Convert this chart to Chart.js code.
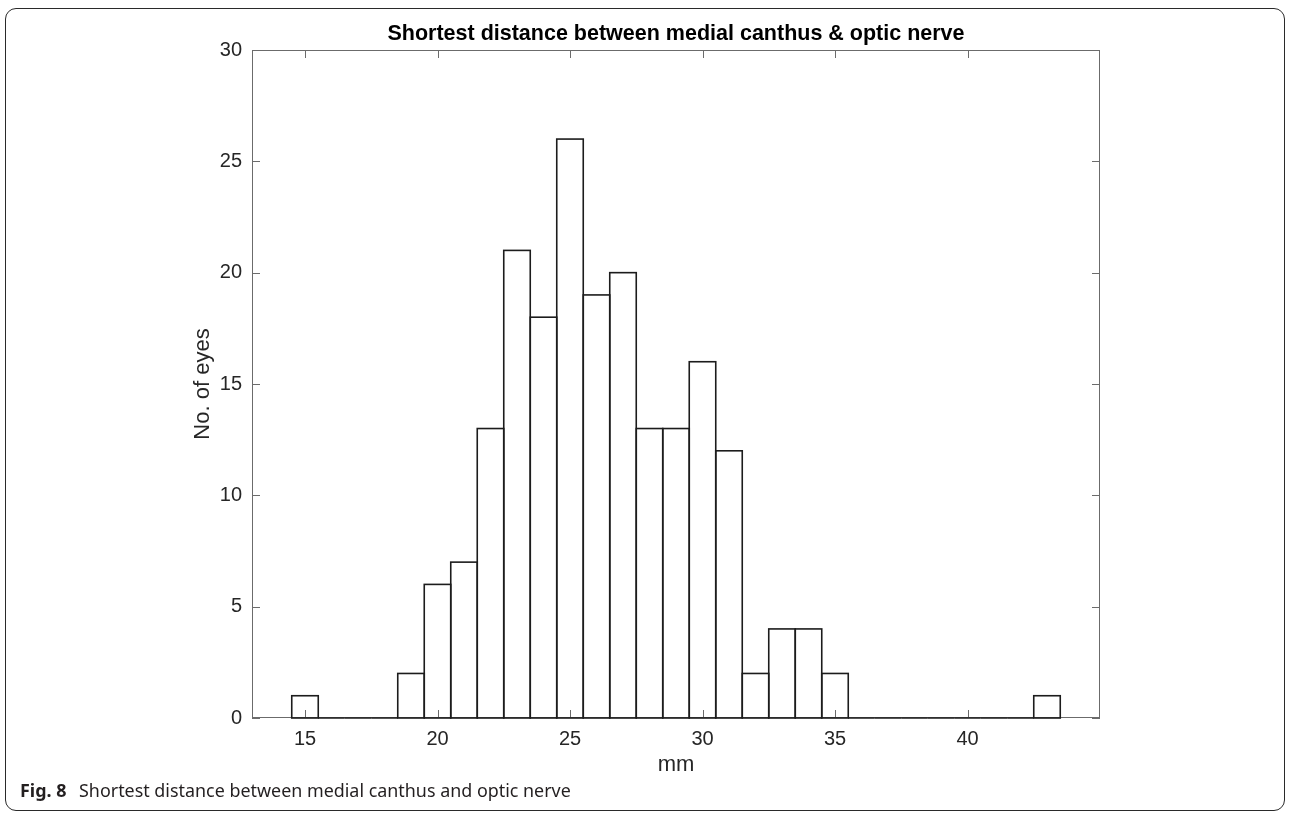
<!DOCTYPE html>
<html>
<head>
<meta charset="utf-8">
<script src="https://cdn.jsdelivr.net/npm/chart.js@4"></script>
<style>
  html, body { margin: 0; padding: 0; background: #fff; }
  #frame {
    position: absolute; left: 5px; top: 8px; width: 1280px; height: 803px;
    border: 1px solid #2a2a2a; border-radius: 11px; box-sizing: border-box;
  }
  #wrap { position: absolute; left: 0; top: 0; width: 1290px; height: 816px; }
  #caption {
    position: absolute; left: 20px; top: 778px;
    font-family: "Noto Sans", "Open Sans", sans-serif; font-size: 17.9px; color: #231f20;
    white-space: nowrap;
  }
  #caption b { margin-right: 8px; }
</style>
</head>
<body>
<div id="frame"></div>
<div id="wrap"><canvas id="chart"></canvas></div>
<div id="caption"><b>Fig. 8</b> Shortest distance between medial canthus and optic nerve</div>
<script>
// histogram bins (bin centres, mm) and counts
const binCenters = [15, 16, 17, 18, 19, 20, 21, 22, 23, 24, 25, 26, 27, 28, 29, 30, 31, 32, 33, 34, 35, 36, 37, 38, 39, 40, 41, 42, 43];
const counts = [1, 0, 0, 0, 2, 6, 7, 13, 21, 18, 26, 19, 20, 13, 13, 16, 12, 2, 4, 4, 2, 0, 0, 0, 0, 0, 0, 0, 1];
const xTicks = [15, 20, 25, 30, 35, 40];
const yTicks = [0, 5, 10, 15, 20, 25, 30];

const AXIS_GRAY = '#6b6b6b';
const TEXT_GRAY = '#262626';
const TICK_LEN = 8;
const FONT = '"Liberation Sans", Arial, Helvetica, sans-serif';

// MATLAB style box with inward ticks, then bar outlines on top
const matlabAxes = {
  id: 'matlabAxes',
  afterDatasetsDraw: (chart) => {
    const { ctx, chartArea: area, scales } = chart;
    ctx.save();
    ctx.strokeStyle = AXIS_GRAY;
    ctx.lineWidth = 1;
    ctx.strokeRect(area.left + 0.5, area.top + 0.5, area.right - area.left - 1, area.bottom - area.top - 1);
    ctx.beginPath();
    xTicks.forEach(v => {
      const px = Math.round(scales.x.getPixelForValue(v)) + 0.5;
      ctx.moveTo(px, area.bottom);
      ctx.lineTo(px, area.bottom - TICK_LEN);
      ctx.moveTo(px, area.top);
      ctx.lineTo(px, area.top + TICK_LEN);
    });
    yTicks.forEach(v => {
      const py = Math.round(scales.y.getPixelForValue(v)) + 0.5;
      ctx.moveTo(area.left, py);
      ctx.lineTo(area.left + TICK_LEN, py);
      ctx.moveTo(area.right, py);
      ctx.lineTo(area.right - TICK_LEN, py);
    });
    ctx.stroke();

    // bar edges (zero bins become a line along the baseline)
    ctx.strokeStyle = '#1c1c1c';
    ctx.lineWidth = 1.6;
    chart.getDatasetMeta(0).data.forEach(bar => {
      const { x, y, base, width } = bar.getProps(['x', 'y', 'base', 'width'], true);
      ctx.strokeRect(x - width / 2, y, width, base - y);
    });
    ctx.restore();
  }
};

const config = {
  type: 'bar',
  data: {
    datasets: [{
      data: binCenters.map((c, i) => ({ x: c, y: counts[i] })),
      backgroundColor: '#ffffff',
      borderWidth: 0,
      barPercentage: 1,
      categoryPercentage: 1,
    }]
  },
  options: {
    responsive: true,
    maintainAspectRatio: false,
    animation: false,
    events: [],
    layout: { padding: { left: 180, right: 190, top: 0, bottom: 36 } },
    plugins: {
      legend: { display: false },
      tooltip: { enabled: false },
      title: {
        display: true,
        fullSize: false,
        text: 'Shortest distance between medial canthus & optic nerve',
        color: '#000000',
        font: { family: FONT, size: 21.5, weight: 'bold' },
        padding: { top: 21, bottom: 3.2 }
      }
    },
    scales: {
      x: {
        type: 'linear',
        min: 13,
        max: 45,
        offset: false,
        grid: { display: false, drawTicks: false },
        border: { display: false },
        afterBuildTicks: (scale) => { scale.ticks = xTicks.map(v => ({ value: v })); },
        afterFit: (scale) => { scale.height = 62; },
        ticks: {
          color: TEXT_GRAY,
          padding: 9,
          maxRotation: 0,
          font: { family: FONT, size: 20 }
        },
        title: {
          display: true,
          text: 'mm',
          color: TEXT_GRAY,
          padding: { top: 0, bottom: 2 },
          font: { family: FONT, size: 22 }
        }
      },
      y: {
        min: 0,
        max: 30,
        grid: { display: false, drawTicks: false },
        border: { display: false },
        afterBuildTicks: (scale) => { scale.ticks = yTicks.map(v => ({ value: v })); },
        afterFit: (scale) => { scale.width = 72; },
        ticks: {
          color: TEXT_GRAY,
          padding: 10,
          font: { family: FONT, size: 20 }
        },
        title: {
          display: true,
          text: 'No. of eyes',
          color: TEXT_GRAY,
          padding: { top: 10, bottom: 0 },
          font: { family: FONT, size: 22 }
        }
      }
    }
  },
  plugins: [matlabAxes]
};

const chart = new Chart(document.getElementById('chart'), config);
</script>
</body>
</html>
